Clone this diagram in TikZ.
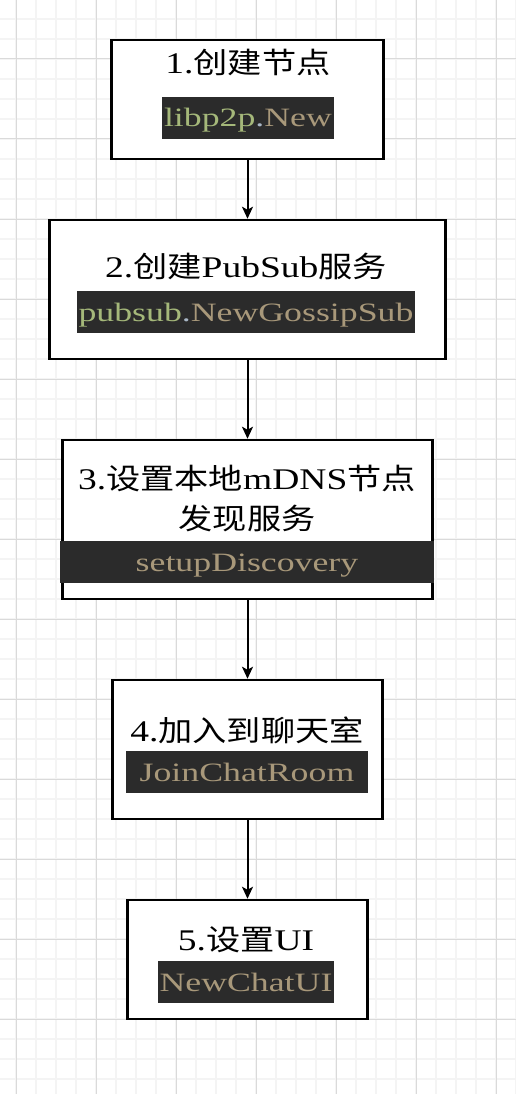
\documentclass[tikz,border=0pt]{standalone}
\usepackage{fontspec}
\usepackage{xcolor}
\usetikzlibrary{arrows.meta,positioning}
\setmainfont{Liberation Serif}[FakeStretch=1.25]
\newfontfamily\codefont{Liberation Serif}[FakeStretch=1.35]
\newfontfamily\cjk{Noto Sans CJK SC}[FakeStretch=1.18]
\newcommand\zh[1]{{\cjk\fontsize{29}{40}\selectfont #1}}
\definecolor{codebg}{HTML}{2B2B2B}
\definecolor{pkggreen}{HTML}{A5B87A}
\definecolor{dotblue}{HTML}{A9B7C6}
\definecolor{fungold}{HTML}{A8987A}
\definecolor{gridmin}{HTML}{F4F4F4}
\definecolor{gridmaj}{HTML}{DADADA}

\begin{document}
\begin{tikzpicture}
	[
		x=1pt, y=-1pt,
		box/.style = {draw, line width=2.5pt, fill=white, inner sep=0},
		title/.style = {anchor=base, inner sep=0, align=center, font=\fontsize{30}{40}\selectfont},
		code/.style = {fill=codebg, inner xsep=2pt, inner ysep=0, text height=24pt, text depth=6pt, minimum height=42pt, font=\codefont\fontsize{26.5}{30}\selectfont},
		flow/.style = {line width=2pt, -{Stealth[length=12pt, width=11pt, inset=3pt]}},
	]

  \useasboundingbox (0,0) rectangle (516,1094);
  \fill[white] (0,0) rectangle (516,1094);
  \foreach \x in {16,36,...,516} \draw[gridmin, line width=2pt] (\x,0) -- (\x,1094);
  \foreach \y in {19,39,...,1094} \draw[gridmin, line width=2pt] (0,\y) -- (516,\y);
  \foreach \x in {16,96,...,516} \draw[gridmaj, line width=1pt] (\x,0) -- (\x,1094);
  \foreach \y in {59,139,...,1094} \draw[gridmaj, line width=1pt] (0,\y) -- (516,\y);

  \node[box, minimum width=272, minimum height=119] (n1) at (247.5,99.5) {};
  \node[box, minimum width=396, minimum height=139] (n2) at (247.5,289.5) {};
  \node[box, minimum width=370, minimum height=159] (n3) at (247.5,519.5) {};
  \node[box, minimum width=270, minimum height=139] (n4) at (247.5,749.5) {};
  \node[box, minimum width=240, minimum height=119] (n5) at (247.5,959.5) {};

  \node[title] (t1) at (248,74) {1.\zh{创建节点}};
  \node[code] (c1) at (248,118) {\textcolor{pkggreen}{libp2p}\textcolor{dotblue}{.}\textcolor{fungold}{New}};

  \node[title] (t2) at (246,277) {2.\zh{创建}PubSub\zh{服务}};
  \node[code] (c2) at (246,312) {\textcolor{pkggreen}{pubsub}\textcolor{dotblue}{.}\textcolor{fungold}{NewGossipSub}};

  \node[title] (t3) at (247,529) {3.\zh{设置本地}mDNS\zh{节点}\\\zh{发现服务}};
  \node[code, minimum width=374] (c3) at (247,562) {\textcolor{fungold}{setupDiscovery}};

  \node[title] (t4) at (247,741) {4.\zh{加入到聊天室}};
  \node[code, minimum width=242] (c4) at (247,772) {\textcolor{fungold}{JoinChatRoom}};

  \node[title] (t5) at (246,950) {5.\zh{设置}UI};
  \node[code] (c5) at (246,982) {\textcolor{fungold}{NewChatUI}};

  \draw[flow] (n1) -- (n2);
  \draw[flow] (n2) -- (n3);
  \draw[flow] (n3) -- (n4);
  \draw[flow] (n4) -- (n5);

\end{tikzpicture}
\end{document}
